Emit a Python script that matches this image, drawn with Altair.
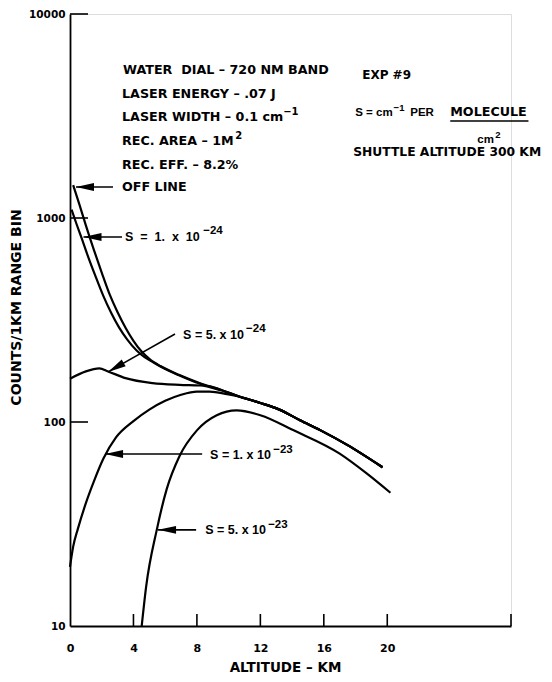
import altair as alt
import pandas as pd

# ---------------- data ----------------
off_km  = [0.2, 0.6, 1.0, 1.5, 2.0, 2.5, 3.0, 3.5, 4.0, 4.5, 5.0, 5.7, 6.9, 8.2, 9.5, 10.7, 12.0, 13.2, 14.5, 15.8, 17.5, 19.7]
off_cnt = [1450, 1160, 920, 700, 540, 422, 345, 290, 250, 222, 204, 188, 170, 155, 144, 133, 124, 115, 102, 91, 77, 60]

s1e24_km  = [0.1, 0.4, 0.75, 1.1, 1.6, 2.1, 2.6, 3.1, 3.6, 4.2, 4.7, 5.2, 5.7, 6.9, 8.2, 9.5, 10.7, 12.0, 13.2, 14.5, 15.8, 17.5, 19.7]
s1e24_cnt = [1100, 940, 790, 660, 520, 415, 342, 290, 254, 224, 208, 197, 187, 169, 154, 144, 133, 124, 115, 102, 91, 77, 60]

s5e24_km  = [0.0, 1.0, 1.85, 2.4, 3.5, 5.2, 6.9, 8.2, 9.5, 10.7, 12.0, 13.2, 14.5, 15.8, 17.5, 19.7]
s5e24_cnt = [163, 177, 183, 177, 164, 155, 152, 151, 143, 133, 124, 115, 102, 91, 77, 60]

s1e23_km  = [0.0, 0.2, 0.5, 1.0, 1.5, 2.1, 2.9, 4.0, 5.0, 6.0, 7.0, 8.0, 8.8, 9.9, 10.7, 12.0, 13.2, 14.5, 15.8, 17.5, 19.7]
s1e23_cnt = [19.5, 24.5, 30, 40, 51, 66, 84, 101, 115, 127, 136, 141, 141, 137, 133, 124, 115, 102, 91, 77, 60]

s5e23_km  = [4.52, 4.8, 5.47, 6.1, 6.9, 8.0, 9.25, 10.5, 12.0, 14.1, 17.0, 18.7, 20.2]
s5e23_cnt = [10, 15.6, 29.6, 47, 68, 91, 108, 114, 108, 91, 70, 56, 45]

x_tick_vals = [0, 4, 8, 12, 16, 20]
y_tick_vals = [10, 100, 1000, 10000]
x_max = 27.8
y_min, y_max = 10, 10000

NB = "\u00a0"  # non-breaking space keeps the wide typewriter spacing
W2 = NB + NB

# header / annotation texts (km, counts)
hdr_text = ["WATER" + W2 + "DIAL \u2013 720 NM BAND", "LASER ENERGY \u2013 .07 J", "LASER WIDTH \u2013 0.1 cm", "\u22121",
            "REC. AREA \u2013 1M", "2", "REC. EFF. \u2013 8.2%", "OFF LINE", "EXP #9", "MOLECULE",
            "SHUTTLE ALTITUDE 300 KM"]
hdr_km   = [3.34, 3.28, 3.28, 13.44, 3.28, 10.41, 3.28, 3.28, 18.42, 23.97, 17.85]
hdr_cnt  = [5320, 4055, 3126, 3311, 2385, 2523, 1820, 1419, 5023, 3311, 2108]
hdr_fs   = [12.7, 12.7, 12.7, 10, 12.7, 10, 12.7, 12.7, 12, 12.7, 12.3]

lab_text = ["S = cm", "\u22121", "PER", "cm", "2",
            "S" + W2 + "=" + W2 + "1." + W2 + "x" + W2 + "10", "\u221224", "S = 5. x 10", "\u221224",
            "S = 1. x 10", "\u221223", "S = 5. x 10", "\u221223"]
lab_km   = [17.98, 20.4, 21.45, 25.68, 26.8,
            3.47, 8.4, 7.13, 11.1,
            8.83, 12.81, 8.52, 12.49]
lab_cnt  = [3270, 3480, 3270, 2412, 2560,
            807, 860, 267, 286,
            68.9, 72.9, 29.6, 31.3]
lab_fs   = [11.5, 9.5, 11.5, 11.5, 9.5,
            12.5, 11.5, 12.5, 11.5,
            12.5, 11.5, 12.5, 11.5]

# arrows: tip -> tail
arr_tip_km  = [0.38, 0.85, 2.40, 2.21, 5.55]
arr_tip_cnt = [1419, 807, 176, 69.7, 29.6]
arr_tail_km  = [2.71, 3.28, 6.62, 8.33, 7.95]
arr_tail_cnt = [1419, 807, 270, 69.7, 29.6]
arr_angle = [0, 0, 330, 0, 0]

# underline of MOLECULE
ul_km = [23.97]
ul_km2 = [28.9]
ul_cnt = [2989]

# ---------------- tables ----------------
rows = []
for name, ks, cs in [("OFF LINE", off_km, off_cnt), ("S=1e-24", s1e24_km, s1e24_cnt),
                     ("S=5e-24", s5e24_km, s5e24_cnt), ("S=1e-23", s1e23_km, s1e23_cnt),
                     ("S=5e-23", s5e23_km, s5e23_cnt)]:
    for k, c in zip(ks, cs):
        rows.append({"series": name, "km": k, "cnt": c})
curves = pd.DataFrame(rows)

hdr = pd.DataFrame({"km": hdr_km, "cnt": hdr_cnt, "txt": hdr_text, "fs": hdr_fs})
lab = pd.DataFrame({"km": lab_km, "cnt": lab_cnt, "txt": lab_text, "fs": lab_fs})
arrows = pd.DataFrame({"km": arr_tip_km, "cnt": arr_tip_cnt, "km2": arr_tail_km,
                       "cnt2": arr_tail_cnt, "ang": arr_angle})
underline = pd.DataFrame({"km": ul_km, "km2": ul_km2, "cnt": ul_cnt})
xticks = pd.DataFrame({"km": x_tick_vals[1:] + [x_max]})
yticks = pd.DataFrame({"cnt": y_tick_vals[1:]})

FONT = "DejaVu Sans"

xscale = alt.Scale(domain=[0, x_max], nice=False, zero=False)
yscale = alt.Scale(type="log", domain=[y_min, y_max], nice=False)

xaxis = alt.Axis(values=x_tick_vals, ticks=False, tickSize=0, grid=False,
                 domainColor="black", domainWidth=1.8,
                 labelFont=FONT, labelFontWeight="bold", labelFontSize=11, labelColor="black",
                 labelPadding=22, labelBaseline="middle", labelFlush=False, labelOverlap=False,
                 title="ALTITUDE \u2013 KM", titleFont=FONT, titleFontWeight="bold",
                 titleFontSize=13.5, titleColor="black", titleX=215, titleY=41,
                 titleAlign="center", titleBaseline="middle")
yaxis = alt.Axis(values=y_tick_vals, ticks=False, tickSize=0, grid=False, format="d",
                 domainColor="black", domainWidth=1.8,
                 labelFont=FONT, labelFontWeight="bold", labelFontSize=10.5, labelColor="black",
                 labelPadding=5, labelFlush=False, labelOverlap=False,
                 title="COUNTS/1KM RANGE BIN", titleFont=FONT, titleFontWeight="bold",
                 titleFontSize=14, titleColor="black", titleX=-54, titleY=293, titleAngle=270,
                 titleAlign="center", titleBaseline="middle")

X = alt.X("km:Q", scale=xscale, axis=xaxis)
Y = alt.Y("cnt:Q", scale=yscale, axis=yaxis)

lines = alt.Chart(curves).mark_line(interpolate="monotone", color="black", strokeWidth=2.2).encode(
    x=X, y=Y, detail="series:N")

xtick_layer = alt.Chart(xticks).mark_rule(color="black", strokeWidth=1.6).encode(
    x=X, y=alt.value(612), y2=alt.value(600))
ytick_layer = alt.Chart(yticks).mark_rule(color="black", strokeWidth=1.6).encode(
    y=Y, x=alt.value(0), x2=alt.value(18))

shafts = alt.Chart(arrows).mark_rule(color="black", strokeWidth=1.6).encode(
    x=X, y=Y, x2="km2:Q", y2="cnt2:Q")
heads = alt.Chart(arrows).mark_point(shape="M0,0L2,-0.44L2,0.44Z", filled=True, color="black",
                                     opacity=1, size=324, strokeWidth=0).encode(
    x=X, y=Y, angle=alt.Angle("ang:Q", scale=None))

ul = alt.Chart(underline).mark_rule(color="black", strokeWidth=1.5).encode(
    x=X, x2="km2:Q", y=Y)

hdr_layer = alt.Chart(hdr).mark_text(align="left", baseline="middle", font=FONT,
                                     fontWeight="bold", color="black").encode(
    x=X, y=Y, text="txt:N", size=alt.Size("fs:Q", scale=None))
lab_layer = alt.Chart(lab).mark_text(align="left", baseline="middle", font="Liberation Sans",
                                     fontWeight="bold", color="black").encode(
    x=X, y=Y, text="txt:N", size=alt.Size("fs:Q", scale=None))

chart = alt.layer(lines, xtick_layer, ytick_layer, shafts, heads, ul, hdr_layer, lab_layer).properties(
    width=441, height=612,
    autosize=alt.AutoSizeParams(type="none"),
    padding={"left": 62, "top": 6, "right": 33, "bottom": 48},
).configure_view(stroke=None).configure(background="white")

chart.save("out.html", embed_options={"renderer": "svg", "actions": False})
